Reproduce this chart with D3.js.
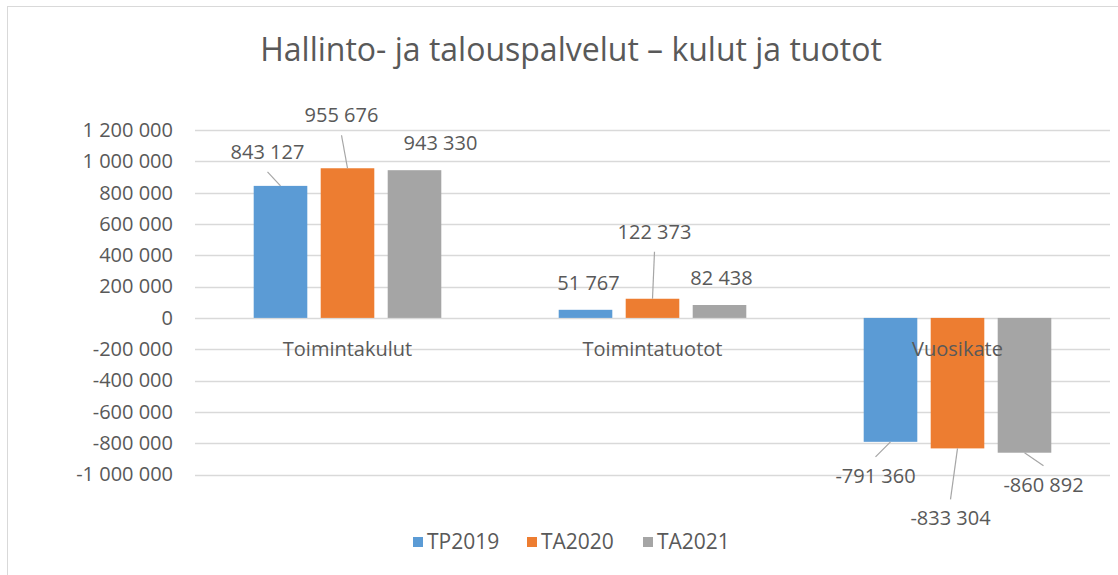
<!DOCTYPE html>
<html>
<head>
<meta charset="utf-8">
<script src="https://cdn.jsdelivr.net/npm/d3@7"></script>
<style>
  body { margin: 0; background: #fff; }
  svg { display: block; font-family: "Open Sans", sans-serif; }
</style>
</head>
<body>
<div id="chart"></div>
<script>
// data
var categories = ["Toimintakulut", "Toimintatuotot", "Vuosikate"];
var seriesNames = ["TP2019", "TA2020", "TA2021"];
var TP2019 = [843127, 51767, -791360];
var TA2020 = [955676, 122373, -833304];
var TA2021 = [943330, 82438, -860892];
var yTicks = [-1000000, -800000, -600000, -400000, -200000, 0, 200000, 400000, 600000, 800000, 1000000, 1200000];
var title = "Hallinto- ja talouspalvelut \u2013 kulut ja tuotot";

var colors = ["#5B9BD5", "#ED7D31", "#A5A5A5"];
var textColor = "#595959";

// label nudges (layout only) per series, per category: [dx, dy] from bar end
var labelNudge = [
  [[-13, -34], [3, -27], [-15, 34]],
  [[-6, -53], [2, -67], [-7, 70]],
  [[26, -27], [2, -27], [19, 32]]
];

var W = 1118, H = 575;
var svg = d3.select("#chart").append("svg").attr("width", W).attr("height", H);

// chart border (the right and bottom sides run off the picture)
svg.append("rect").attr("x", 7.5).attr("y", 6.5).attr("width", 1130).attr("height", 600)
  .style("fill", "#fff").style("stroke", "#D9D9D9").style("stroke-width", 1);

var x0 = d3.scaleBand().domain(categories).range([195, 1110]).padding(0);
var groupPad = 58.7;
var x1 = d3.scaleBand().domain(seriesNames).range([groupPad, x0.bandwidth() - groupPad]).paddingInner(0.2).paddingOuter(0);
var y = d3.scaleLinear().domain([-1000000, 1200000]).range([474.5, 130]);

// Excel style: space as thousands separator, plain hyphen for minus
var fmt = function(v) { return d3.format(",")(v).replace(/,/g, "\u00a0").replace("\u2212", "-"); };

// gridlines + tick labels
var yAxis = d3.axisLeft(y).tickValues(yTicks).tickSize(0).tickPadding(22).tickFormat(fmt);
var gAxis = svg.append("g").attr("transform", "translate(195,0)").call(yAxis);
gAxis.select(".domain").remove();
gAxis.selectAll("text").style("font-size", "20px").style("fill", textColor).style("font-family", "Open Sans");

svg.append("g").selectAll("line").data(yTicks).join("line")
  .attr("x1", 195).attr("x2", 1110)
  .attr("y1", function(d) { return Math.round(y(d)) + 0.5; })
  .attr("y2", function(d) { return Math.round(y(d)) + 0.5; })
  .style("stroke", "#D9D9D9").style("stroke-width", 1.3);

// bars
var allSeries = [TP2019, TA2020, TA2021];
var rows = [];
allSeries.forEach(function(vals, si) {
  vals.forEach(function(v, ci) {
    rows.push({ s: si, c: ci, v: v });
  });
});

function barX(d) { return x0(categories[d.c]) + x1(seriesNames[d.s]); }

svg.append("g").selectAll("rect").data(rows).join("rect")
  .attr("x", barX)
  .attr("width", x1.bandwidth())
  .attr("y", function(d) { return Math.min(y(d.v), y(0)); })
  .attr("height", function(d) { return Math.abs(y(d.v) - y(0)); })
  .style("fill", function(d) { return colors[d.s]; });

// category labels, next to the zero line, on top of bars
svg.append("g").selectAll("text").data(categories).join("text")
  .attr("x", function(d) { return x0(d) + x0.bandwidth() / 2; })
  .attr("y", y(0) + 31)
  .attr("dy", "0.35em")
  .attr("text-anchor", "middle")
  .style("font-size", "20px").style("fill", textColor)
  .text(function(d) { return d; });

// data labels with leader lines
var gLab = svg.append("g");
rows.forEach(function(d) {
  var cx = barX(d) + x1.bandwidth() / 2,
    ey = y(d.v),
    nudge = labelNudge[d.s][d.c],
    lx = cx + nudge[0],
    ly = ey + nudge[1];
  if (Math.abs(nudge[1]) > 30) {
    var edge = ly + (nudge[1] < 0 ? 20 : -19);
    gLab.append("line")
      .attr("x1", cx).attr("y1", ey)
      .attr("x2", lx).attr("y2", edge)
      .style("stroke", "#A6A6A6").style("stroke-width", 1.2);
  }
  gLab.append("text")
    .attr("x", lx).attr("y", ly).attr("dy", "0.35em")
    .attr("text-anchor", "middle")
    .style("font-size", "20px").style("fill", textColor)
    .text(fmt(d.v));
});

// title
svg.append("text").attr("x", 571).attr("y", 50).attr("dy", "0.35em")
  .attr("text-anchor", "middle")
  .style("font-size", "32px").style("fill", textColor)
  .text(title);

// legend
var legX = [413, 527, 643];
var leg = svg.append("g").selectAll("g").data(seriesNames).join("g")
  .attr("transform", function(d, i) { return "translate(" + legX[i] + ",542)"; });
leg.append("rect").attr("x", 0).attr("y", -5).attr("width", 10).attr("height", 10)
  .style("fill", function(d, i) { return colors[i]; });
leg.append("text").attr("x", 14).attr("dy", "0.35em")
  .style("font-size", "21px").style("fill", textColor)
  .text(function(d) { return d; });
</script>
</body>
</html>
